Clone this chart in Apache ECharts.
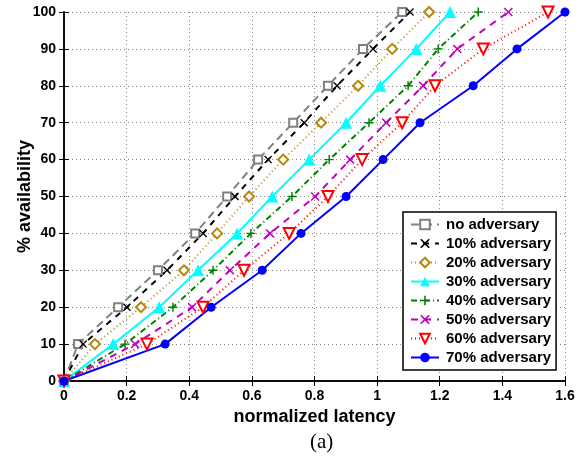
<!DOCTYPE html>
<html>
<head>
<meta charset="utf-8">
<script src="https://cdn.jsdelivr.net/npm/echarts/dist/echarts.min.js"></script>
<style>
  body { margin: 0; background: #fff; }
  #chart { width: 587px; height: 461px; }
</style>
</head>
<body>
<div id="chart"></div>
<script>
// availability levels (y) shared by every curve
var levels = [0, 10, 20, 30, 40, 50, 60, 70, 80, 90, 100];
// normalized latency (x) for each level
var noAdv = [0, 0.045, 0.173, 0.30, 0.419, 0.521, 0.62, 0.732, 0.843, 0.955, 1.08];
var adv10 = [0, 0.061, 0.201, 0.329, 0.444, 0.546, 0.652, 0.767, 0.872, 0.987, 1.105];
var adv20 = [0, 0.099, 0.246, 0.383, 0.489, 0.591, 0.70, 0.821, 0.939, 1.048, 1.166];
var adv30 = [0, 0.157, 0.304, 0.428, 0.553, 0.665, 0.783, 0.901, 1.01, 1.125, 1.233];
var adv40 = [0, 0.195, 0.348, 0.476, 0.597, 0.728, 0.847, 0.974, 1.099, 1.195, 1.323];
var adv50 = [0, 0.227, 0.409, 0.53, 0.658, 0.802, 0.914, 1.029, 1.147, 1.256, 1.419];
var adv60 = [0, 0.265, 0.444, 0.575, 0.719, 0.843, 0.952, 1.08, 1.185, 1.339, 1.546];
var adv70 = [0, 0.323, 0.47, 0.633, 0.757, 0.901, 1.019, 1.137, 1.307, 1.447, 1.6];

var names = ["no adversary", "10% adversary", "20% adversary", "30% adversary",
             "40% adversary", "50% adversary", "60% adversary", "70% adversary"];

var xMark = "path://M0,1.2 L1.2,0 L5,3.8 L8.8,0 L10,1.2 L6.2,5 L10,8.8 L8.8,10 L5,6.2 L1.2,10 L0,8.8 L3.8,5 Z";
var plusMark = "path://M4.2,0 H5.8 V4.2 H10 V5.8 H5.8 V10 H4.2 V5.8 H0 V4.2 H4.2 Z";

function pts(xs) {
  return xs.map(function (x, i) { return [x, levels[i]]; });
}

function line(name, xs, color, type, symbol, size, extra) {
  var s = {
    name: name,
    type: "line",
    data: pts(xs),
    symbol: symbol,
    symbolSize: size,
    showAllSymbol: true,
    animation: false,
    lineStyle: { color: color, width: 2, type: type },
    itemStyle: { color: color, borderWidth: 2 }
  };
  for (var k in extra) s[k] = extra[k];
  return s;
}

var myChart = echarts.init(document.getElementById("chart"));
var font = "Liberation Sans, Arial";
var axisText = { color: "#000", fontWeight: "bold", fontSize: 14, fontFamily: font };

myChart.setOption({
  animation: false,
  grid: { left: 64, right: 22, top: 12, bottom: 80, containLabel: false, outerBoundsMode: "none" },
  legend: {
    orient: "vertical",
    left: 403,
    top: 212,
    itemWidth: 28,
    itemHeight: 12,
    itemGap: 4,
    padding: [5, 5, 5, 7],
    backgroundColor: "#fff",
    borderColor: "#000",
    borderWidth: 1.5,
    borderRadius: 0,
    textStyle: { color: "#000", fontWeight: "bold", fontSize: 15, fontFamily: font, padding: [0, 0, 0, 2] },
    data: names
  },
  xAxis: [
    {
      type: "value", min: 0, max: 1.6, interval: 0.2,
      axisLine: { show: true, onZero: false, lineStyle: { color: "#000", width: 1.5 } },
      axisTick: { show: true, inside: true, length: 5, lineStyle: { color: "#000" } },
      axisLabel: axisText,
      splitLine: { show: true, lineStyle: { color: "#888", type: [1, 3] } },
      name: "normalized latency",
      nameLocation: "middle",
      nameGap: 21,
      nameTextStyle: { color: "#000", fontWeight: "bold", fontSize: 18, fontFamily: font }
    },
    {
      type: "value", position: "top", min: 0, max: 1.6, interval: 0.2,
      axisLine: { show: true, lineStyle: { color: "#000", width: 1.5 } },
      axisTick: { show: true, inside: true, length: 5, lineStyle: { color: "#000" } },
      axisLabel: { show: false }, splitLine: { show: false }
    }
  ],
  yAxis: [
    {
      type: "value", min: 0, max: 100, interval: 10,
      axisLine: { show: true, onZero: false, lineStyle: { color: "#000", width: 1.5 } },
      axisTick: { show: true, inside: true, length: 5, lineStyle: { color: "#000" } },
      axisLabel: axisText,
      splitLine: { show: true, lineStyle: { color: "#888", type: [1, 3] } },
      name: "% availability",
      nameLocation: "middle",
      nameGap: 30,
      nameMoveOverlap: false,
      nameTextStyle: { color: "#000", fontWeight: "bold", fontSize: 18, fontFamily: font }
    },
    {
      type: "value", position: "right", min: 0, max: 100, interval: 10,
      axisLine: { show: true, lineStyle: { color: "#000", width: 1.5 } },
      axisTick: { show: true, inside: true, length: 5, lineStyle: { color: "#000" } },
      axisLabel: { show: false }, splitLine: { show: false }
    }
  ],
  graphic: [
    {
      type: "text", left: 310, top: 432,
      style: { text: "(a)", fill: "#000", font: "21px 'Liberation Serif', 'Times New Roman', serif" }
    }
  ],
  series: [
    line(names[0], noAdv, "#808080", [8, 5], "emptyRect", 8, {}),
    line(names[1], adv10, "#000000", [6, 6], xMark, 8, {}),
    line(names[2], adv20, "#c08a1a", [1, 3], "emptyDiamond", 10, { itemStyle: { color: "#b8860b", borderWidth: 2 } }),
    line(names[3], adv30, "#00ffff", "solid", "triangle", 12, {}),
    line(names[4], adv40, "#008000", [6, 3, 1, 3], plusMark, 9, {}),
    line(names[5], adv50, "#c000c0", [7, 6], xMark, 9, {}),
    line(names[6], adv60, "#ff0000", [1, 3], "emptyTriangle", 11, { symbolRotate: 180 }),
    line(names[7], adv70, "#0000ff", "solid", "circle", 9, {})
  ]
});
</script>
</body>
</html>
